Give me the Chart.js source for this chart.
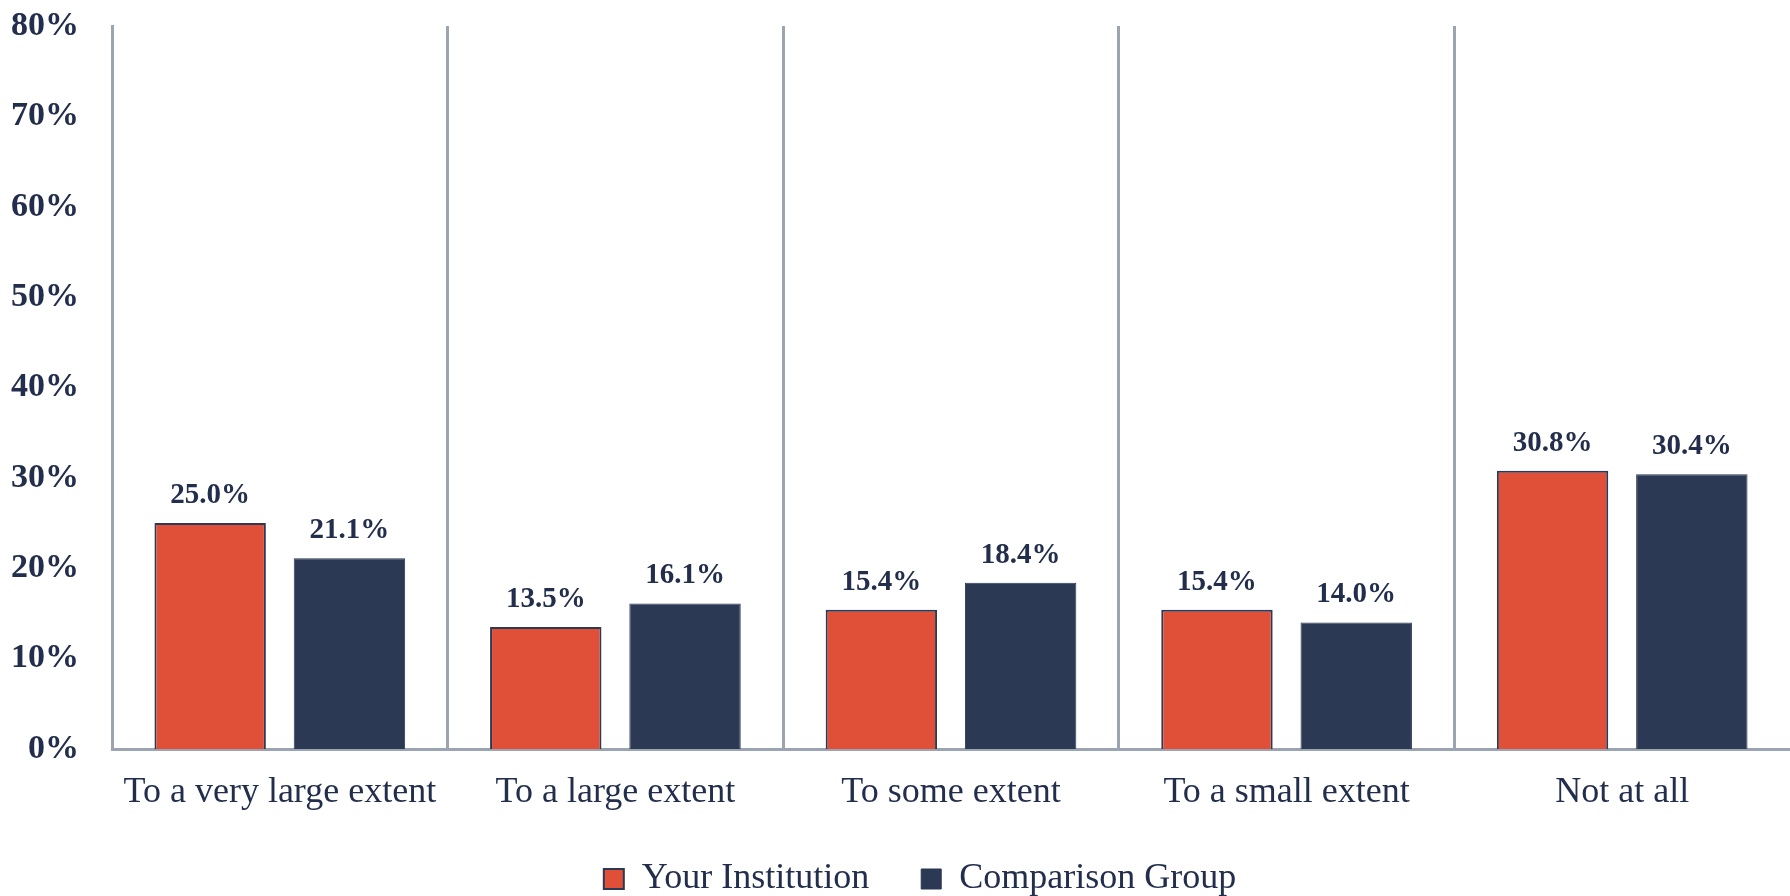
<!DOCTYPE html>
<html>
<head>
<meta charset="utf-8">
<script src="https://cdn.jsdelivr.net/npm/chart.js@4.4.1/dist/chart.umd.min.js"></script>
<style>
  html, body { margin: 0; padding: 0; background: #ffffff; }
  #wrap { width: 1790px; height: 896px; }
</style>
</head>
<body>
<div id="wrap"><canvas id="c" width="1790" height="896"></canvas></div>
<script>
const categories = ["To a very large extent", "To a large extent", "To some extent", "To a small extent", "Not at all"];
const yourInstitution = [25.0, 13.5, 15.4, 15.4, 30.8];
const comparisonGroup = [21.1, 16.1, 18.4, 14.0, 30.4];
const seriesNames = ["Your Institution", "Comparison Group"];
const yTicks = [0, 10, 20, 30, 40, 50, 60, 70, 80];

const RED = "#E05038";
const NAVY = "#2B3955";
const TEXT = "#222E4C";
const GRID = "#9AA5B1";
const FONT = "'Liberation Serif', 'Times New Roman', serif";

const valueLabels = {
  id: "valueLabels",
  afterDatasetsDraw(chart) {
    const ctx = chart.ctx;
    ctx.save();
    ctx.font = "bold 29px " + FONT;
    ctx.fillStyle = TEXT;
    ctx.textAlign = "center";
    ctx.textBaseline = "alphabetic";
    chart.data.datasets.forEach((ds, di) => {
      const meta = chart.getDatasetMeta(di);
      meta.data.forEach((bar, i) => {
        ctx.fillText(ds.data[i].toFixed(1) + "%", bar.x, bar.y - 20);
      });
    });
    ctx.restore();
  }
};

const legendShift = {
  id: "legendShift",
  afterLayout(chart) {
    const lg = chart.legend;
    if (!lg) return;
    lg.top -= 10;
    lg.bottom = chart.height;
    lg.left += 25; lg.right += 25;
  }
};

new Chart(document.getElementById("c"), {
  type: "bar",
  data: {
    labels: categories,
    datasets: [
      {
        label: seriesNames[0],
        data: yourInstitution,
        backgroundColor: RED,
        borderColor: NAVY,
        borderWidth: 2,
        categoryPercentage: 0.83,
        barPercentage: 0.80
      },
      {
        label: seriesNames[1],
        data: comparisonGroup,
        backgroundColor: NAVY,
        borderColor: NAVY,
        borderWidth: 1,
        categoryPercentage: 0.83,
        barPercentage: 0.80
      }
    ]
  },
  options: {
    responsive: false,
    devicePixelRatio: 1,
    animation: false,
    layout: { padding: { top: 0, left: 0, right: 0, bottom: 0 } },
    plugins: {
      tooltip: { enabled: false },
      legend: {
        position: "bottom",
        maxHeight: 77,
        labels: {
          color: TEXT,
          font: { family: FONT, size: 36 },
          boxWidth: 20,
          boxHeight: 20,
          padding: 52
        }
      }
    },
    scales: {
      x: {
        offset: true,
        grid: {
          display: true,
          offset: true,
          drawTicks: false,
          lineWidth: 3,
          color: (c) => (c.type === "tick" ? GRID : "rgba(0,0,0,0)")
        },
        border: { display: true, color: GRID, width: 3 },
        ticks: {
          color: TEXT,
          padding: 22,
          font: { family: FONT, size: 36 },
          maxRotation: 0,
          autoSkip: false
        },
        afterFit: (s) => { s.height = 70; }
      },
      y: {
        min: 0,
        max: 80,
        afterBuildTicks: (s) => { s.ticks = yTicks.map(v => ({ value: v })); },
        grid: { display: false, drawTicks: false },
        border: { display: true, color: GRID, width: 3 },
        ticks: {
          color: TEXT,
          padding: 33,
          font: { family: FONT, size: 34, weight: "bold" },
          callback: (v) => v + "%"
        },
        afterFit: (s) => { s.width = 112; s.paddingTop = 26; s.paddingBottom = 0; }
      }
    }
  },
  plugins: [valueLabels, legendShift]
});
</script>
</body>
</html>
